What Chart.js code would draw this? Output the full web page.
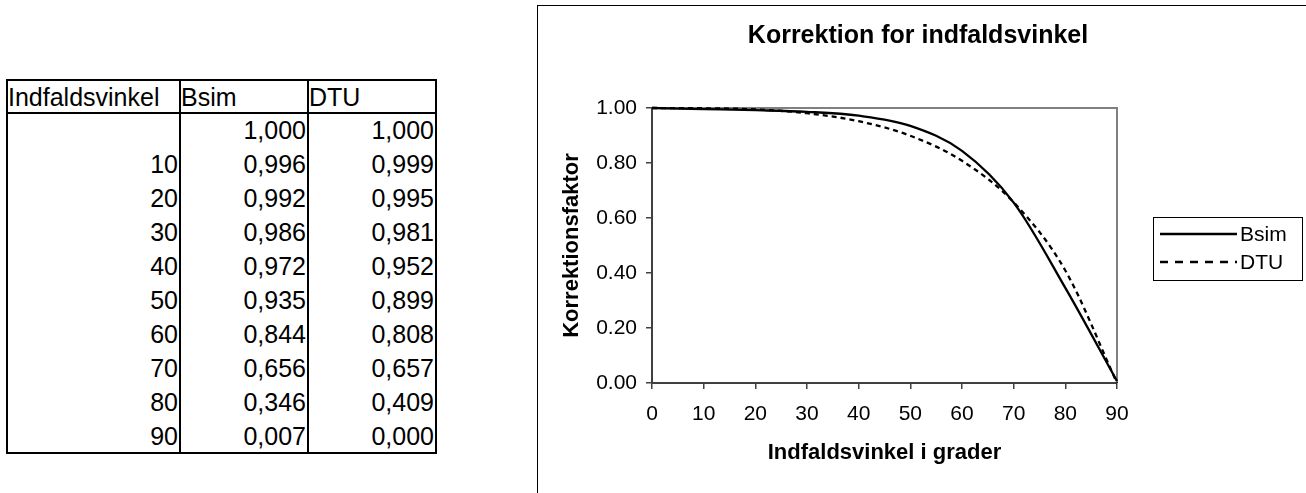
<!DOCTYPE html>
<html>
<head>
<meta charset="utf-8">
<script src="https://cdn.jsdelivr.net/npm/chart.js@4.4.1/dist/chart.umd.min.js"></script>
<style>
  body { margin:0; width:1306px; height:493px; overflow:hidden; background:#fff; position:relative;
         font-family:"Liberation Sans", Arial, sans-serif; }
  .cell { position:absolute; font-size:25px; line-height:28px; height:28px; white-space:nowrap; color:#000; }
  .ln { position:absolute; background:#000; }
  #frame { position:absolute; left:537px; top:5px; width:900px; height:600px; border:1px solid #000; }
  #wrap { position:absolute; left:538px; top:6px; width:768px; height:487px; }
</style>
</head>
<body>
<div id="tbl"></div>
<div id="frame"></div>
<div id="wrap"><canvas id="chart"></canvas></div>
<script>
// =====================
// Data
// =====================
const angles = [0, 10, 20, 30, 40, 50, 60, 70, 80, 90];
const bsim = [1.000, 0.996, 0.992, 0.986, 0.972, 0.935, 0.844, 0.656, 0.346, 0.007];
const dtu = [1.000, 0.999, 0.995, 0.981, 0.952, 0.899, 0.808, 0.657, 0.409, 0.000];
const headers = ['Indfaldsvinkel', 'Bsim', 'DTU'];
const seriesNames = ['Bsim', 'DTU'];
const chartTitle = 'Korrektion for indfaldsvinkel';

// =====================
// Tabel (venstre)
// =====================
const tbl = document.getElementById('tbl');
const L = 7, C1 = 180, C2 = 308, R = 436;
const top0 = 80, headBottom = 113, rowH = 34;
const bottom = headBottom + rowH * angles.length;

function line(x, y, w, h) {
  const d = document.createElement('div');
  d.className = 'ln';
  Object.assign(d.style, { left: x + 'px', top: y + 'px', width: w + 'px', height: h + 'px' });
  tbl.appendChild(d);
}
function cell(text, x, y, alignRight) {
  const d = document.createElement('div');
  d.className = 'cell';
  d.textContent = text;
  if (alignRight) { d.style.right = (1306 - x) + 'px'; } else { d.style.left = x + 'px'; }
  d.style.top = (y - 14) + 'px';
  tbl.appendChild(d);
}

// rammer
line(L - 1, top0 - 1, R - L + 2, 2);
line(L - 1, headBottom - 1, R - L + 2, 2);
line(L - 1, bottom - 1, R - L + 2, 2);
[L, C1, C2, R].forEach(x => line(x - 1, top0 - 1, 2, bottom - top0 + 1));

// header
const hy = (top0 + headBottom) / 2;
cell(headers[0], L + 1, hy);
cell(headers[1], C1 + 1, hy);
cell(headers[2], C2 + 1, hy);

const fmt = v => v.toFixed(3).replace('.', ',');
angles.forEach((a, i) => {
  const cy = headBottom + rowH * i + rowH / 2;
  cell(a === 0 ? '' : String(a), C1 - 2, cy, true);
  cell(fmt(bsim[i]), C2 - 2, cy, true);
  cell(fmt(dtu[i]), R - 2, cy, true);
});

// =====================
// Graf (højre)
// =====================
const FONT = '"Liberation Sans", Arial, sans-serif';
Chart.defaults.font.family = FONT;
Chart.defaults.color = '#000';

const plotFrame = {
  id: 'plotFrame',
  beforeDatasetsDraw(chart) {
    const { ctx, chartArea: a } = chart;
    ctx.save();
    ctx.strokeStyle = '#808080';
    ctx.lineWidth = 2;
    ctx.beginPath();
    ctx.moveTo(a.left, a.top);
    ctx.lineTo(a.right, a.top);
    ctx.lineTo(a.right, a.bottom);
    ctx.stroke();
    ctx.restore();
  }
};

// titel centreret over hele diagramområdet
const centerTitle = {
  id: 'centerTitle',
  afterDraw(chart) {
    const { ctx } = chart;
    ctx.save();
    ctx.fillStyle = '#000';
    ctx.font = 'bold 25px ' + FONT;
    ctx.textAlign = 'center';
    ctx.textBaseline = 'middle';
    ctx.fillText(chartTitle, 380, 30);
    ctx.restore();
  }
};

const boxLegend = {
  id: 'boxLegend',
  afterDraw(chart) {
    const { ctx } = chart;
    const x = 615, y = 211, w = 149, h = 63;
    ctx.save();
    ctx.fillStyle = '#fff';
    ctx.fillRect(x, y, w, h);
    ctx.strokeStyle = '#000';
    ctx.lineWidth = 1;
    ctx.strokeRect(x + 0.5, y + 0.5, w, h);
    chart.data.datasets.forEach((ds, i) => {
      const ly = y + 17 + i * 28;
      ctx.strokeStyle = ds.borderColor;
      ctx.lineWidth = ds.borderWidth;
      ctx.setLineDash(ds.borderDash ? [8, 7] : []);
      ctx.beginPath();
      ctx.moveTo(x + 7, ly);
      ctx.lineTo(x + 84, ly);
      ctx.stroke();
      ctx.setLineDash([]);
      ctx.fillStyle = '#000';
      ctx.font = '21px ' + FONT;
      ctx.textBaseline = 'middle';
      ctx.fillText(ds.label, x + 87, ly + 1);
    });
    ctx.restore();
  }
};

new Chart(document.getElementById('chart'), {
  type: 'line',
  data: {
    datasets: [
      {
        label: seriesNames[0],
        data: angles.map((a, i) => ({ x: a, y: bsim[i] })),
        borderColor: '#000',
        borderWidth: 2.3,
        pointRadius: 0,
        cubicInterpolationMode: 'monotone',
        fill: false
      },
      {
        label: seriesNames[1],
        data: angles.map((a, i) => ({ x: a, y: dtu[i] })),
        borderColor: '#000',
        borderWidth: 2.3,
        borderDash: [5, 4],
        pointRadius: 0,
        cubicInterpolationMode: 'monotone',
        fill: false
      }
    ]
  },
  options: {
    responsive: true,
    maintainAspectRatio: false,
    animation: false,
    clip: false,
    layout: { padding: { top: 102, right: 189, bottom: 0, left: 0 } },
    plugins: {
      legend: { display: false },
      tooltip: { enabled: false },
      title: { display: false }
    },
    scales: {
      x: {
        type: 'linear',
        min: 0, max: 90,
        ticks: { stepSize: 10, padding: 13, font: { size: 21 }, maxRotation: 0 },
        grid: { drawOnChartArea: false, tickLength: 6, color: '#404040', lineWidth: 1.5 },
        border: { color: '#404040', width: 2 },
        title: { display: true, text: 'Indfaldsvinkel i grader', font: { size: 22, weight: 'bold' }, padding: { top: 0, bottom: 27 } },
        afterFit(s) { s.height = 110; }
      },
      y: {
        min: 0, max: 1,
        ticks: { stepSize: 0.2, padding: 9, font: { size: 21 }, callback: v => v.toFixed(2) },
        grid: { drawOnChartArea: false, tickLength: 6, color: '#404040', lineWidth: 1.5 },
        border: { color: '#404040', width: 2 },
        title: { display: true, text: 'Korrektionsfaktor', font: { size: 22, weight: 'bold' }, padding: { top: 21, bottom: 0 } },
        afterFit(s) { s.width = 114; }
      }
    }
  },
  plugins: [plotFrame, centerTitle, boxLegend]
});
</script>
</body>
</html>
